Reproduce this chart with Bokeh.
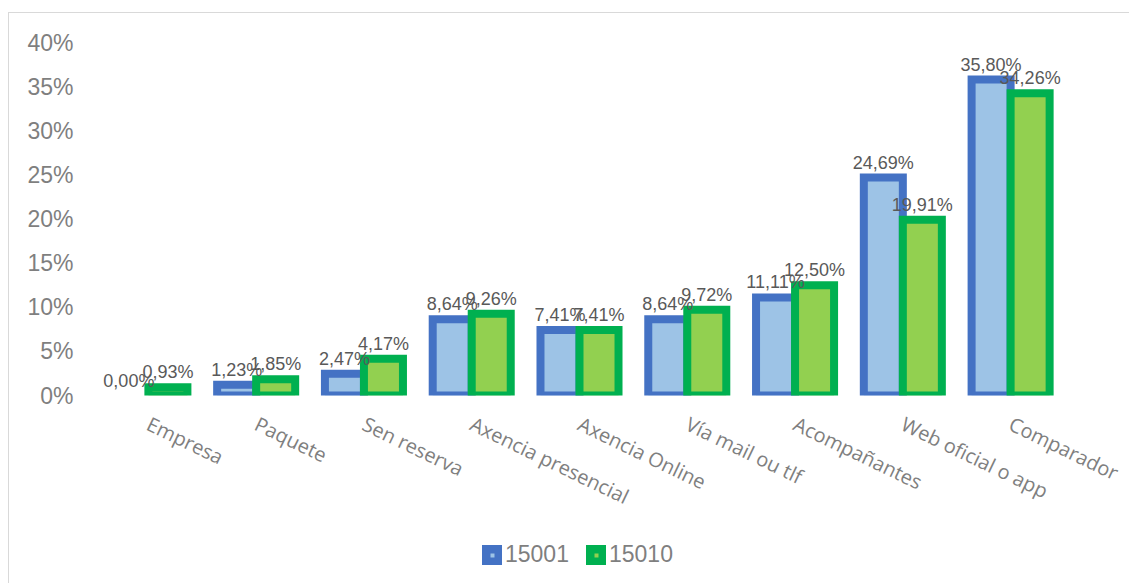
from bokeh.plotting import figure
from bokeh.layouts import column
from bokeh.models import (ColumnDataSource, FactorRange, Range1d, NumeralTickFormatter,
                          Legend, LegendItem, CDSView, BooleanFilter, FixedTicker)
from bokeh.transform import dodge
from bokeh.core.properties import value
from bokeh.embed import file_html
from bokeh.resources import INLINE

categories = ["Empresa", "Paquete", "Sen reserva", "Axencia presencial", "Axencia Online",
              "Vía mail ou tlf", "Acompañantes", "Web oficial o app", "Comparador"]
s15001 = [0.00, 1.23, 2.47, 8.64, 7.41, 8.64, 11.11, 24.69, 35.80]
s15010 = [0.93, 1.85, 4.17, 9.26, 7.41, 9.72, 12.50, 19.91, 34.26]
series_names = ["15001", "15010"]
y_ticks = [0, 0.05, 0.10, 0.15, 0.20, 0.25, 0.30, 0.35, 0.40]

BLUE_LINE, BLUE_FILL = "#4472C4", "#9DC3E6"
GREEN_LINE, GREEN_FILL = "#00B050", "#92D050"


def fmt(v):
    return f"{v:.2f}".replace(".", ",") + "%"


src = ColumnDataSource(dict(
    cat=categories,
    a=[v / 100 for v in s15001],
    b=[v / 100 for v in s15010],
    la=[fmt(v) for v in s15001],
    lb=[fmt(v) for v in s15010],
))

p = figure(x_range=FactorRange(*categories), y_range=Range1d(0, 0.40),
           width=1121, height=521, output_backend="svg", toolbar_location=None,
           min_border_left=85, min_border_right=66, min_border_top=29, min_border_bottom=139)
p.margin = (12, 0, 0, 8)
p.styles = {"border-left": "1px solid #d9d9d9", "border-top": "1px solid #d9d9d9"}
p.outline_line_color = None
p.xgrid.visible = False
p.ygrid.visible = False

bw = 0.362
off = bw / 2
view_a = CDSView(filter=BooleanFilter([v > 0 for v in s15001]))
view_b = CDSView(filter=BooleanFilter([v > 0 for v in s15010]))

p.vbar(x=dodge("cat", -off, range=p.x_range), top="a", width=bw, source=src, view=view_a,
       fill_color=BLUE_FILL, line_color=BLUE_LINE, line_width=8, line_join="miter")
p.vbar(x=dodge("cat", off, range=p.x_range), top="b", width=bw, source=src, view=view_b,
       fill_color=GREEN_FILL, line_color=GREEN_LINE, line_width=8, line_join="miter")

lab_kw = dict(text_font=value("Liberation Sans"), text_font_size="18px", text_color="#595959",
              text_align="center", text_baseline="alphabetic", y_offset=-15, source=src)
p.text(x=dodge("cat", -off, range=p.x_range), y="a", text="la", **lab_kw)
p.text(x=dodge("cat", off, range=p.x_range), y="b", text="lb", **lab_kw)

p.yaxis.ticker = FixedTicker(ticks=y_ticks)
p.yaxis.formatter = NumeralTickFormatter(format="0%")
p.yaxis.axis_line_color = None
p.yaxis.major_tick_line_color = None
p.yaxis.minor_tick_line_color = None
p.yaxis.major_tick_out = 0
p.yaxis.major_label_standoff = 21
p.yaxis.major_label_text_font = "Liberation Sans"
p.yaxis.major_label_text_font_size = "23px"
p.yaxis.major_label_text_color = "#7f7f7f"

p.xaxis.axis_line_color = None
p.xaxis.major_tick_line_color = None
p.xaxis.minor_tick_line_color = None
p.xaxis.major_tick_out = 0
p.xaxis.major_label_standoff = 27
p.xaxis.major_label_orientation = -0.45
p.xaxis.major_label_text_font = "Open Sans"
p.xaxis.major_label_text_font_size = "20px"
p.xaxis.major_label_text_color = "#7f7f7f"

# legend strip below the chart
q = figure(width=1121, height=50, output_backend="svg", toolbar_location=None,
           x_range=Range1d(0, 1), y_range=Range1d(0, 1),
           x_axis_location=None, y_axis_location=None,
           min_border_left=0, min_border_right=0, min_border_top=0, min_border_bottom=0)
q.margin = (0, 0, 0, 8)
q.styles = {"border-left": "1px solid #d9d9d9"}
q.outline_line_color = None
q.xgrid.visible = False
q.ygrid.visible = False
nan = float("nan")
qa = q.vbar(x=[nan], top=[nan], bottom=[nan], width=0.5,
            fill_color=BLUE_FILL, line_color=BLUE_LINE, line_width=12)
qb = q.vbar(x=[nan], top=[nan], bottom=[nan], width=0.5,
            fill_color=GREEN_FILL, line_color=GREEN_LINE, line_width=12)

legend = Legend(items=[LegendItem(label=series_names[0], renderers=[qa]),
                       LegendItem(label=series_names[1], renderers=[qb])],
                location=(388, 15), orientation="horizontal",
                glyph_width=20, glyph_height=20, label_standoff=3, spacing=17,
                padding=0, margin=0, border_line_color=None, background_fill_alpha=0,
                label_text_font="Liberation Sans", label_text_font_size="23px",
                label_text_color="#7f7f7f")
q.add_layout(legend)

layout = column(p, q, spacing=0)
open("out.html", "w").write(file_html(layout, INLINE))
